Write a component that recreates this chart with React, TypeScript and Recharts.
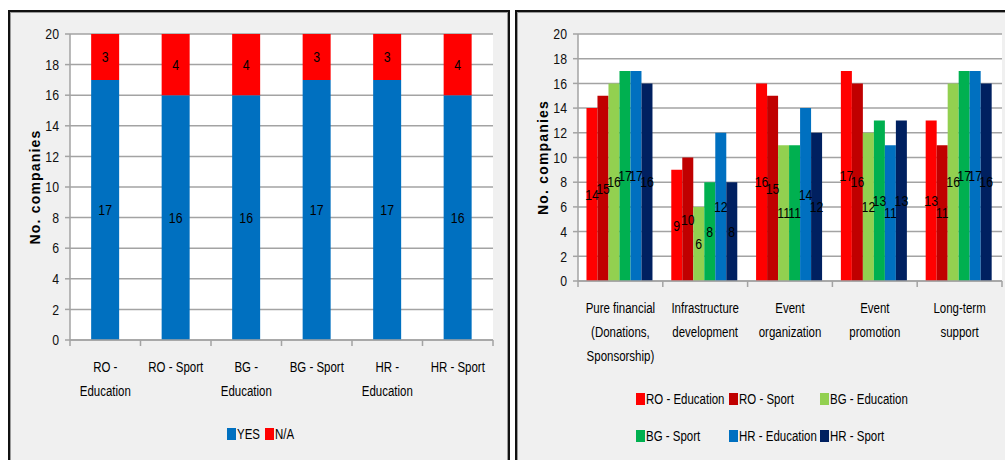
import { BarChart, Bar, XAxis, YAxis, CartesianGrid, Legend, LabelList } from 'recharts';

const FONT = "'Liberation Sans', Arial, sans-serif";
// Calibri-like narrow text: Liberation Sans squeezed horizontally
const SQUEEZE = 0.82;
const GRID = '#a3a3a3';

// left chart: companies answering per country / field
const stackCategories = ['RO -\nEducation', 'RO - Sport', 'BG -\nEducation', 'BG - Sport', 'HR -\nEducation', 'HR - Sport'];
const yesCounts = [17, 16, 16, 17, 17, 16];
const naCounts = [3, 4, 4, 3, 3, 4];

// right chart: type of support
const supportTypes = [
  'Pure financial\n(Donations,\nSponsorship)',
  'Infrastructure\ndevelopment',
  'Event\norganization',
  'Event\npromotion',
  'Long-term\nsupport',
];
const roEducation = [14, 9, 16, 17, 13];
const roSport = [15, 10, 15, 16, 11];
const bgEducation = [16, 6, 11, 12, 16];
const bgSport = [17, 8, 11, 13, 17];
const hrEducation = [17, 12, 14, 11, 17];
const hrSport = [16, 8, 12, 13, 16];

const yTicks = [0, 2, 4, 6, 8, 10, 12, 14, 16, 18, 20];

const stackSeries = [
  { key: 'yes', name: 'YES', color: '#0070c0' },
  { key: 'na', name: 'N/A', color: '#ff0000' },
];

const supportSeries = [
  { key: 'roEducation', name: 'RO - Education', color: '#ff0000' },
  { key: 'roSport', name: 'RO - Sport', color: '#c00000' },
  { key: 'bgEducation', name: 'BG - Education', color: '#92d050' },
  { key: 'bgSport', name: 'BG - Sport', color: '#00b050' },
  { key: 'hrEducation', name: 'HR - Education', color: '#0070c0' },
  { key: 'hrSport', name: 'HR - Sport', color: '#002060' },
];

const stackData = stackCategories.map((name, i) => ({ name, yes: yesCounts[i], na: naCounts[i] }));

const supportData = supportTypes.map((name, i) => ({
  name,
  roEducation: roEducation[i],
  roSport: roSport[i],
  bgEducation: bgEducation[i],
  bgSport: bgSport[i],
  hrEducation: hrEducation[i],
  hrSport: hrSport[i],
}));

function NarrowText({ x, y, anchor = 'middle', size = 14, fill = '#000', lines }: any) {
  const rows: string[] = Array.isArray(lines) ? lines : [String(lines)];
  return (
    <text
      transform={`translate(${x} ${y}) scale(${SQUEEZE} 1)`}
      textAnchor={anchor}
      fontFamily={FONT}
      fontSize={size}
      fill={fill}
    >
      {rows.map((l, i) => (
        <tspan key={i} x={0} dy={i === 0 ? '0.35em' : 24}>
          {l}
        </tspan>
      ))}
    </text>
  );
}

// category label with Excel-style tick marks between categories
function CategoryTick(props: any) {
  const { x, y, payload, index, count } = props;
  const half = payload.offset ?? 0;
  return (
    <g>
      <line x1={x - half} x2={x - half} y1={y} y2={y + 6} stroke={GRID} strokeWidth={1.5} />
      {index === count - 1 && (
        <line x1={x + half} x2={x + half} y1={y} y2={y + 6} stroke={GRID} strokeWidth={1.5} />
      )}
      <NarrowText x={x} y={y + 27} lines={String(payload.value).split('\n')} />
    </g>
  );
}

function ValueTick(props: any) {
  const { x, y, payload } = props;
  return <NarrowText x={x} y={y} anchor="end" size={15} fill="#111" lines={payload.value} />;
}

function BarValue(props: any) {
  const { x, y, width, height, value } = props;
  return <NarrowText x={x + width / 2} y={y + height / 2} size={15} lines={value} />;
}

function YTitle(props: any) {
  const { viewBox } = props;
  const cx = 25;
  const cy = viewBox.y + viewBox.height / 2;
  return (
    <text
      x={cx}
      y={cy}
      transform={`rotate(-90 ${cx} ${cy})`}
      textAnchor="middle"
      dominantBaseline="central"
      fontFamily={FONT}
      fontWeight="bold"
      fontSize={14}
      letterSpacing={1.2}
      fill="#000"
    >
      No. companies
    </text>
  );
}

function LegendItem({ x, y, color, name }: any) {
  return (
    <g>
      <rect x={x} y={y - 6} width={9} height={12} fill={color} />
      <NarrowText x={x + 10} y={y} anchor="start" lines={name} />
    </g>
  );
}

function StackLegend() {
  return (
    <svg width={483} height={24} style={{ display: 'block' }}>
      <LegendItem x={217} y={12} color={stackSeries[0].color} name={stackSeries[0].name} />
      <LegendItem x={255} y={12} color={stackSeries[1].color} name={stackSeries[1].name} />
    </svg>
  );
}

const legendCols = [118, 211, 302];

function SupportLegend() {
  return (
    <svg width={484} height={74} style={{ display: 'block' }}>
      {supportSeries.map((s, i) => (
        <LegendItem key={s.key} x={legendCols[i % 3]} y={18 + Math.floor(i / 3) * 37} color={s.color} name={s.name} />
      ))}
    </svg>
  );
}

const yAxisProps = {
  domain: [0, 20] as [number, number],
  ticks: yTicks,
  interval: 0 as const,
  width: 60,
  tickSize: 5,
  tickMargin: 6,
  axisLine: { stroke: GRID, strokeWidth: 1.5 },
  tickLine: { stroke: GRID, strokeWidth: 1.5 },
  tick: <ValueTick />,
};

function ParticipationChart() {
  return (
    <BarChart width={496} height={446} data={stackData} margin={{ top: 22, right: 13, left: 0, bottom: 12 }} barCategoryGap="30%">
      <CartesianGrid vertical={false} stroke={GRID} strokeWidth={1.5} fill="#ffffff" />
      <XAxis
        dataKey="name"
        height={82}
        interval={0}
        tickLine={false}
        tickSize={0}
        tickMargin={0}
        axisLine={{ stroke: GRID, strokeWidth: 1.5 }}
        tick={(p: any) => <CategoryTick {...p} count={stackData.length} />}
      />
      <YAxis {...yAxisProps} label={<YTitle />} />
      <Legend verticalAlign="bottom" content={() => <StackLegend />} wrapperStyle={{ height: 24 }} />
      {stackSeries.map((s) => (
        <Bar key={s.key} dataKey={s.key} name={s.name} stackId="a" fill={s.color} isAnimationActive={false}>
          <LabelList dataKey={s.key} content={<BarValue />} />
        </Bar>
      ))}
    </BarChart>
  );
}

function SupportChart() {
  return (
    <BarChart width={487} height={446} data={supportData} margin={{ top: 22, right: 3, left: 0, bottom: 3 }} barCategoryGap="10%" barGap={0}>
      <CartesianGrid vertical={false} stroke={GRID} strokeWidth={1.5} fill="#ffffff" />
      <XAxis
        dataKey="name"
        height={100}
        interval={0}
        tickLine={false}
        tickSize={0}
        tickMargin={0}
        axisLine={{ stroke: GRID, strokeWidth: 1.5 }}
        tick={(p: any) => <CategoryTick {...p} count={supportData.length} />}
      />
      <YAxis {...yAxisProps} label={<YTitle />} />
      <Legend verticalAlign="bottom" content={() => <SupportLegend />} wrapperStyle={{ height: 74 }} />
      {supportSeries.map((s) => (
        <Bar key={s.key} dataKey={s.key} name={s.name} fill={s.color} isAnimationActive={false}>
          <LabelList dataKey={s.key} content={<BarValue />} />
        </Bar>
      ))}
    </BarChart>
  );
}

function panelStyle(left: number, width: number): React.CSSProperties {
  return {
    position: 'absolute',
    left,
    top: 10,
    width,
    height: 470,
    boxSizing: 'border-box',
    border: '2px solid #111',
    boxShadow: 'inset 0 0 0 1px #9a9a9a',
    background: '#f0f0f0',
  };
}

export default function App() {
  return (
    <div style={{ position: 'absolute', left: 0, top: 0, width: 1005, height: 460, overflow: 'hidden', background: '#fff' }}>
      <div style={panelStyle(8, 502)} />
      <div style={panelStyle(515, 500)} />
      <div style={{ position: 'absolute', left: 10, top: 12 }}>
        <ParticipationChart />
      </div>
      <div style={{ position: 'absolute', left: 518, top: 12 }}>
        <SupportChart />
      </div>
    </div>
  );
}
